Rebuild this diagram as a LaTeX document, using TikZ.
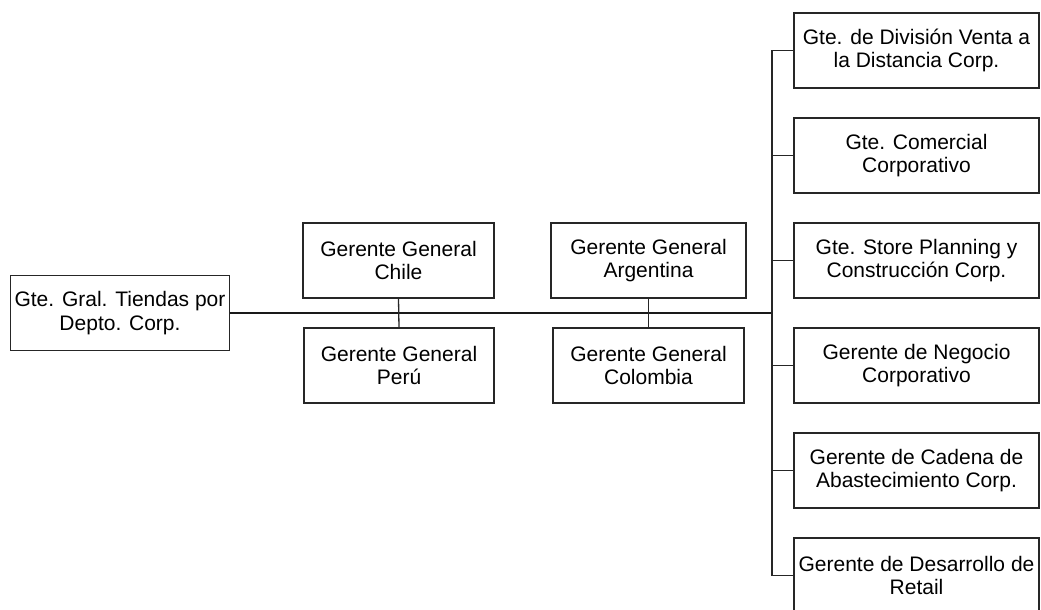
\documentclass[tikz,border=0pt]{standalone}
\usepackage{fontspec}
\setmainfont{Liberation Sans}
\begin{document}
\begin{tikzpicture}[x=1pt,y=-1pt,
  box/.style={draw=black!85, line width=1.3pt, rectangle, minimum height=75pt,
    align=center, inner sep=1pt, font=\fontsize{21}{23.5}\selectfont},
  tie/.style={draw=black!85, line width=1.3pt},
  trunk/.style={draw=black!90, line width=1.9pt}]
\clip (0,0) rectangle (1041,610);

% head of the unit
\node[box, minimum width=219pt] (gral) at (120,313) {Gte. Gral. Tiendas por\\Depto. Corp.};

% country managers
\node[box, minimum width=191pt] (chile) at (398.5,260.5) {Gerente General\\Chile};
\node[box, minimum width=190pt] (peru)  at (399,365.5)   {Gerente General\\Perú};
\node[box, minimum width=195pt] (arg)   at (648.5,260.5) {Gerente General\\Argentina};
\node[box, minimum width=191pt] (col)   at (648.5,365.5) {Gerente General\\Colombia};

% corporate managers
\foreach \n/\y/\t in {
  r1/50.5/{Gte. de División Venta a\\la Distancia Corp.},
  r2/155.5/{Gte. Comercial\\Corporativo},
  r3/260.5/{Gte. Store Planning y\\Construcción Corp.},
  r4/365.5/{Gerente de Negocio\\Corporativo},
  r5/470.5/{Gerente de Cadena de\\Abastecimiento Corp.},
  r6/575.5/{Gerente de Desarrollo de\\Retail}}
  \node[box, minimum width=245pt] (\n) at (916.5,\y) {\t};

% spine on the right
\coordinate (hub) at (772,313);
\coordinate (top) at (772,50.5);
\coordinate (bot) at (772,575.5);

\draw[trunk] (gral.east) -- (hub);
\draw[tie] (chile.south) -- (peru.north);
\draw[tie] (arg.south) -- (col.north);
\draw[tie] (top) -- (bot);
\foreach \n in {r1,r2,r3,r4,r5,r6}
  \draw[tie] (\n.west -| hub) -- (\n.west);
\end{tikzpicture}
\end{document}
